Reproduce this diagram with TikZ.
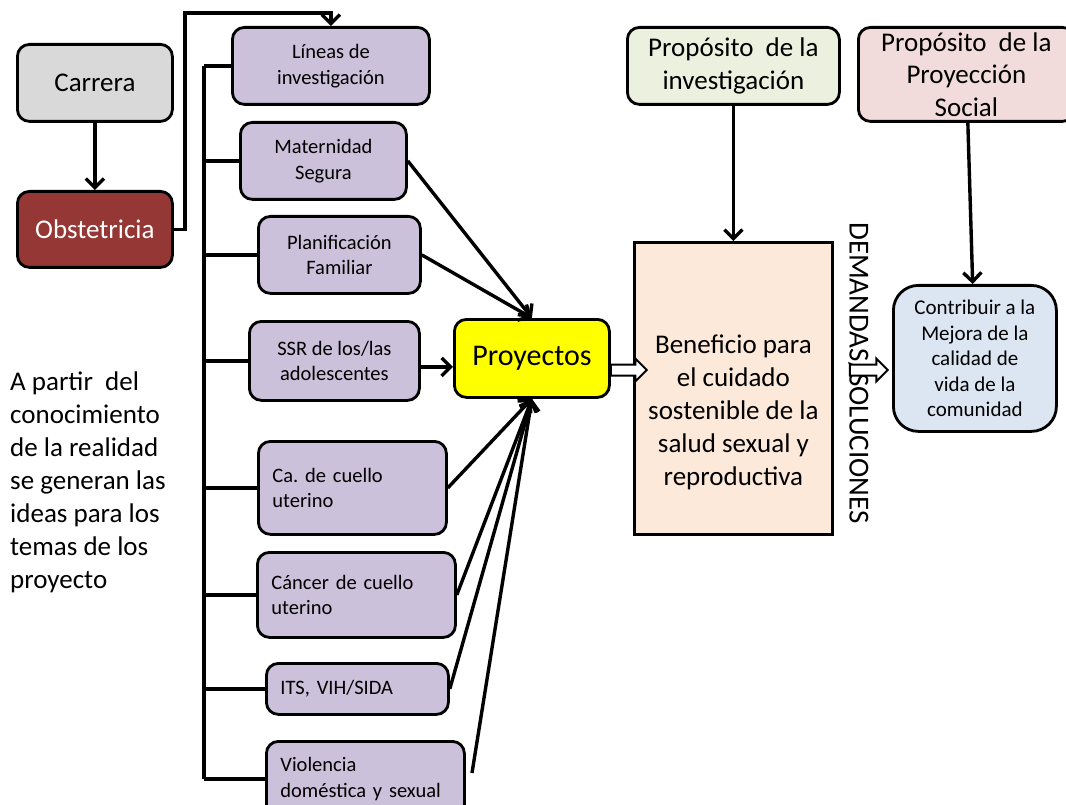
\documentclass[tikz,border=0pt]{standalone}
\usepackage{fontspec}
\setmainfont{Carlito}
\usetikzlibrary{arrows.meta,shapes.arrows,calc}

\definecolor{gris}{HTML}{D9D9D9}
\definecolor{vino}{HTML}{953735}
\definecolor{lila}{HTML}{CCC1DA}
\definecolor{amarillo}{HTML}{FFFF00}
\definecolor{durazno}{HTML}{FDE9D9}
\definecolor{verdeclaro}{HTML}{EBF1DE}
\definecolor{rosado}{HTML}{F2DCDB}
\definecolor{celeste}{HTML}{DCE6F2}

\frenchspacing

\begin{document}
\begin{tikzpicture}[
    x=1pt, y=-1pt,
    caja/.style={draw, line width=2.8pt, rounded corners=12pt, anchor=north west, align=center, inner sep=0pt},
    grande/.style={caja, font=\fontsize{27}{32.5}\selectfont},
    tema/.style={caja, fill=lila, font=\fontsize{20.5}{25.5}\selectfont},
    temaizq/.style={tema, align=left, inner xsep=14pt},
    arrow/.style={-{Straight Barb[length=9pt,width=18pt]}, line width=3.4pt},
    linea/.style={line width=3.4pt},
    bloque/.style={single arrow, draw, fill=white, line width=2pt, inner sep=4.5pt, single arrow head extend=6pt}
]
\useasboundingbox (0,0) rectangle (1066,805);

% carrera
\node[grande, fill=gris, minimum width=155pt, minimum height=77pt] (carrera) at (16,43) {Carrera};
\node[grande, fill=vino, text=white, minimum width=155pt, minimum height=76pt] (obst) at (16,190) {Obstetricia};

% lineas y temas
\node[tema, minimum width=197pt, minimum height=77pt] (lineas) at (231,26) {Líneas de\\investigación};
\node[tema, minimum width=166pt, minimum height=77pt] (mater) at (239,121) {Maternidad\\Segura};
\node[tema, minimum width=162pt, minimum height=77pt] (planif) at (257,215) {Planificación\\Familiar};
\node[tema, minimum width=170pt, minimum height=79pt] (ssr) at (248,320) {SSR de los/las\\adolescentes};
\node[temaizq, text width=160pt, minimum height=93pt] (cacu) at (257,440) {Ca. de cuello\\uterino};
\node[temaizq, text width=170pt, minimum height=85pt] (cancer) at (256,551) {Cáncer de cuello\\uterino};
\node[temaizq, text width=154pt, minimum height=51pt] (its) at (265,662) {ITS, VIH/SIDA};
\node[temaizq, text width=170pt, minimum height=75pt] (violencia) at (265,740) {Violencia\\doméstica y sexual};

% proyectos y propositos
\node[caja, fill=amarillo, minimum width=155pt, minimum height=78pt, font=\fontsize{30}{36}\selectfont] (proy) at (453,318) {Proyectos};
\node[caja, fill=durazno, rounded corners=0pt, minimum width=198pt, minimum height=292pt] (benef) at (633,241) {};
\node[font=\fontsize{27}{33}\selectfont, align=center] (beneftxt) at ([yshift=-24pt]benef.center) {Beneficio para\\el cuidado\\sostenible de la\\salud sexual y\\reproductiva};
\node[grande, fill=verdeclaro, minimum width=212pt, minimum height=77pt] (propinv) at (626,26) {Propósito\ \ de la\\investigación};
\node[grande, fill=rosado, minimum width=216pt, minimum height=94pt] (propsoc) at (857,26) {Propósito\ \ de la\\Proyección\\Social};
\node[caja, fill=celeste, rounded corners=25pt, minimum width=163pt, minimum height=146pt, font=\fontsize{21}{25.5}\selectfont] (contrib) at (892,284) {Contribuir a la\\Mejora de la\\calidad de\\vida de la\\comunidad};

% textos sueltos
\node[anchor=north west, align=left, inner sep=0pt, font=\fontsize{27}{33}\selectfont] (idea) at (10,372) {A partir\ \ del\\conocimiento\\de la realidad\\se generan las\\ideas para los\\temas de los\\proyecto};
\node[rotate=-90, font=\fontsize{29}{34}\selectfont] (demandas) at (859,373) {DEMANDAS/SOLUCIONES};

% conectores
\coordinate (codo) at (185,13);
\coordinate (eje) at (204,0);
\coordinate (vfin) at (472,773);

\draw[arrow] (carrera) -- (obst);
\draw[arrow] (obst.east) -| (codo) -| (lineas.north);

\draw[linea] (lineas.west -| eje) -- (violencia.west -| eje);
\draw[linea] (lineas.west) -- (lineas.west -| eje);
\draw[linea] (mater.west) -- (mater.west -| eje);
\draw[linea] (planif.west) -- (planif.west -| eje);
\draw[linea] (ssr.west) -- (ssr.west -| eje);
\draw[linea] (cacu.west) -- (cacu.west -| eje);
\draw[linea] (cancer.west) -- (cancer.west -| eje);
\draw[linea] (its.west) -- (its.west -| eje);
\draw[linea] (violencia.west) -- (violencia.west -| eje);

\draw[arrow] (mater.east) -- (proy.north);
\draw[arrow] (planif.east) -- (proy.north);
\draw[arrow] ([yshift=-6pt]ssr.east) -- ([yshift=-6pt]ssr.east -| proy.west);
\draw[arrow] (cacu.east) -- (proy.south);
\draw[arrow] (cancer.east) -- (proy.south);
\draw[arrow] (its.east) -- (proy.south);
\draw[arrow] (vfin) -- (proy.south);

\draw[arrow] (propinv) -- (benef);
\draw[arrow] (propsoc) -- (contrib);

\node[bloque, minimum height=36pt] (flecha1) at (626,370) {};
\node[bloque, minimum height=38pt] (flecha2) at (866,370) {};

\end{tikzpicture}
\end{document}
